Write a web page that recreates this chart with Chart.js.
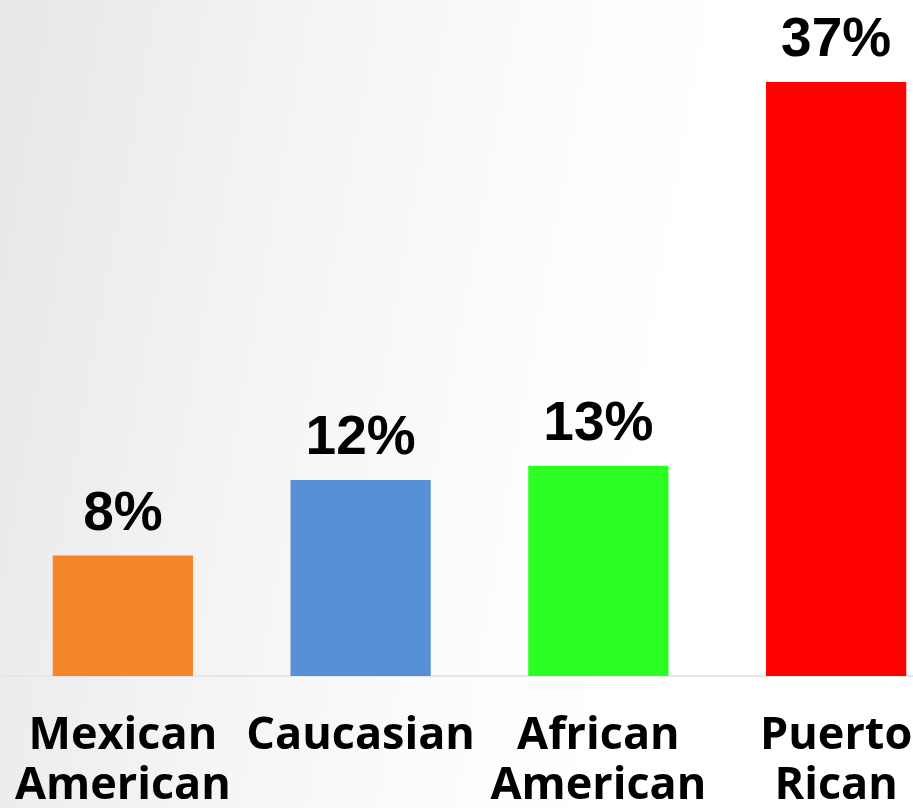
<!DOCTYPE html>
<html>
<head>
<meta charset="utf-8">
<script src="https://cdn.jsdelivr.net/npm/chart.js@4"></script>
<style>
  html, body { margin: 0; padding: 0; overflow: hidden; width: 913px; height: 808px; }
  body { background: linear-gradient(100deg, #e7e7e7 0%, #f4f4f4 30%, #fcfcfc 55%, #ffffff 70%); }
  #wrap { position: relative; width: 955px; height: 808px; }
</style>
</head>
<body>
<div id="wrap"><canvas id="groups"></canvas></div>
<script>
const categories = [["Mexican", "American"], "Caucasian", ["African", "American"], ["Puerto", "Rican"]];
const rates = [7.5, 12.2, 13.1, 37];
const rateLabels = ["8%", "12%", "13%", "37%"];
const barColors = ['#F5852A', '#5890D6', '#2CFF22', '#FF0000'];

// draws the percent text over each bar
const valueLabels = {
    id: 'valueLabels',
    afterDatasetsDraw(chart) {
        const ctx = chart.ctx;
        const meta = chart.getDatasetMeta(0);
        ctx.save();
        ctx.font = 'bold 55px "Liberation Sans", Arial, sans-serif';
        ctx.fillStyle = '#000';
        ctx.textAlign = 'center';
        ctx.textBaseline = 'alphabetic';
        meta.data.forEach((bar, i) => {
            ctx.fillText(rateLabels[i], bar.x, bar.y - 26);
        });
        ctx.restore();
    }
};

const groups = new Chart(document.getElementById('groups').getContext('2d'), {
    type: 'bar',
    data: {
        labels: categories,
        datasets: [{
            data: rates,
            backgroundColor: barColors,
            borderWidth: 0,
            barPercentage: 0.59,
            categoryPercentage: 1
        }]
    },
    options: {
        responsive: true,
        maintainAspectRatio: false,
        animation: false,
        layout: { padding: { left: 4, right: 0, top: 0, bottom: 0 } },
        scales: {
            x: {
                afterFit: (scale) => {
                    scale.height = 132;
                    scale.paddingLeft = 0;
                    scale.paddingRight = 0;
                },
                grid: { display: false, drawTicks: false },
                border: { display: true, color: '#e6e6e6', width: 2 },
                ticks: {
                    color: '#000',
                    padding: 35,
                    maxRotation: 0,
                    autoSkip: false,
                    font: { family: '"Open Sans", sans-serif', weight: 'bold', size: 45, lineHeight: 1.12 }
                }
            },
            y: {
                display: false,
                min: 0,
                max: 42.1
            }
        },
        plugins: {
            legend: { display: false },
            tooltip: { enabled: false }
        }
    },
    plugins: [valueLabels]
});
</script>
</body>
</html>
